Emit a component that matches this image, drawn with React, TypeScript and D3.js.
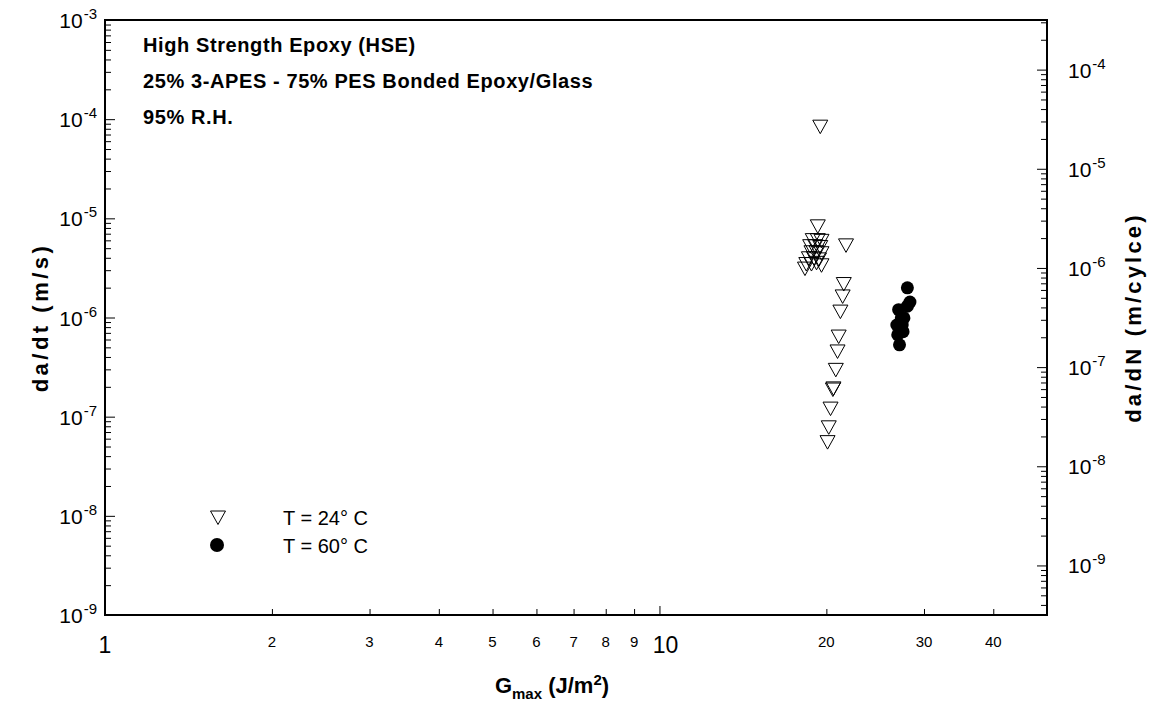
import React, { useEffect, useRef } from "react";
import * as d3 from "d3";

// T = 24 C, open triangles
const g24 = [19.5, 19.3, 18.9, 19.3, 19.6, 18.7, 19.1, 19.5, 18.8, 19.2, 19.6, 18.6, 19.0, 19.4, 18.4, 18.8, 19.2, 19.6, 18.3, 21.7, 21.5, 21.4, 21.2, 21.05, 20.95, 20.8, 20.6, 20.55, 20.35, 20.2, 20.1];
const r24 = [8.5e-5, 8.4e-6, 6.1e-6, 6.1e-6, 6.0e-6, 5.3e-6, 5.3e-6, 5.2e-6, 4.6e-6, 4.6e-6, 4.5e-6, 4.0e-6, 4.0e-6, 3.9e-6, 3.5e-6, 3.5e-6, 3.6e-6, 3.4e-6, 3.15e-6, 5.4e-6, 2.2e-6, 1.65e-6, 1.16e-6, 6.5e-7, 4.6e-7, 3.0e-7, 1.95e-7, 1.9e-7, 1.22e-7, 7.9e-8, 5.6e-8];

// T = 60 C, filled circles
const g60 = [28.0, 28.3, 27.0, 28.0, 27.3, 27.6, 26.8, 27.4, 26.9, 27.5, 27.1];
const r60 = [1.99e-6, 1.43e-6, 1.2e-6, 1.3e-6, 9.9e-7, 9.9e-7, 8.4e-7, 8.4e-7, 6.7e-7, 7.2e-7, 5.3e-7];

const xMajor = [1, 10];
const xMinor = [2, 3, 4, 5, 6, 7, 8, 9, 20, 30, 40];
const leftExp = [-3, -4, -5, -6, -7, -8, -9];
const rightExp = [-4, -5, -6, -7, -8, -9];
const titleLines = ["High Strength Epoxy (HSE)", "25% 3-APES - 75% PES Bonded Epoxy/Glass", "95% R.H."];
const legendLabels = ["T = 24\u00b0 C", "T = 60\u00b0 C"];
const cycleFactor = 3.16; // da/dN = da/dt / f

const W = 1153, H = 705;
const left = 105, right = 1047, top = 20, bottom = 615;
const font = "'Liberation Sans', Arial, Helvetica, sans-serif";

const x = d3.scaleLog().domain([1, 50]).range([left, right]);
const y = d3.scaleLog().domain([1e-9, 1e-3]).range([bottom, top]);
const y2 = d3.scaleLog().domain([1e-9 / cycleFactor, 1e-3 / cycleFactor]).range([bottom, top]);

// inverted open triangle marker
const tri = (cx: number, cy: number) =>
  `M${cx - 7.5},${cy - 6}L${cx + 7.5},${cy - 6}L${cx},${cy + 7.5}Z`;

const minorDecades = (lo: number, hi: number) => {
  const out: number[] = [];
  for (let e = lo; e < hi; e++) for (let k = 2; k <= 9; k++) out.push(k * Math.pow(10, e));
  return out;
};

const App = () => {
  const svgRef = useRef<SVGSVGElement>(null);

  useEffect(() => {
    const svg = d3.select(svgRef.current);

    const draw = (cls: string, axis: d3.Axis<any>, tx: number, ty: number) => {
      const g = svg.select<SVGGElement>(cls).attr("transform", `translate(${tx},${ty})`).call(axis);
      g.select(".domain").remove();
      g.selectAll("text").remove();
      g.selectAll("line").attr("stroke", "#000").attr("stroke-width", 1);
    };

    draw(".yl-major", d3.axisRight(y).tickValues(leftExp.map(e => Math.pow(10, e))).tickSize(10), left, 0);
    draw(".yl-minor", d3.axisRight(y).tickValues(minorDecades(-9, -3)).tickSize(6), left, 0);

    const y2Minor = minorDecades(-10, -3).filter(v => v >= 1e-9 / cycleFactor && v <= 1e-3 / cycleFactor);
    draw(".yr-major", d3.axisLeft(y2).tickValues(rightExp.map(e => Math.pow(10, e))).tickSize(10), right, 0);
    draw(".yr-minor", d3.axisLeft(y2).tickValues(y2Minor).tickSize(6), right, 0);

    draw(".x-major", d3.axisTop(x).tickValues(xMajor).tickSize(9), 0, bottom);
    draw(".x-minor", d3.axisTop(x).tickValues(xMinor).tickSize(6), 0, bottom);
  }, []);

  return (
    <svg ref={svgRef} width={W} height={H} viewBox={`0 0 ${W} ${H}`}
      style={{ position: "absolute", left: 0, top: 0, background: "#fff" }} fontFamily={font}>
      <rect x={0} y={0} width={W} height={H} fill="#fff" />
      <g className="yl-major" />
      <g className="yl-minor" />
      <g className="yr-major" />
      <g className="yr-minor" />
      <g className="x-major" />
      <g className="x-minor" />
      <rect x={left} y={top} width={right - left} height={bottom - top} fill="none" stroke="#000" strokeWidth={2} />

      {leftExp.map(e => (
        <text key={"l" + e} x={left - 8} y={y(Math.pow(10, e)) + 8} textAnchor="end" fontSize={21}>
          10<tspan dx={1} dy={-9} fontSize={15}>{e}</tspan>
        </text>
      ))}
      {rightExp.map(e => (
        <text key={"r" + e} x={right + 21} y={y2(Math.pow(10, e)) + 8} fontSize={21}>
          10<tspan dx={1} dy={-9} fontSize={15}>{e}</tspan>
        </text>
      ))}
      {xMajor.map(v => (
        <text key={"xm" + v} x={x(v) + (v === 10 ? 6 : 0)} y={653} textAnchor="middle" fontSize={23}>{v}</text>
      ))}
      {xMinor.map(v => (
        <text key={"xn" + v} x={x(v)} y={647} textAnchor="middle" fontSize={15}>{v}</text>
      ))}

      <text transform={`translate(48,${(top + bottom) / 2}) rotate(-90)`} textAnchor="middle" fontSize={22} fontWeight="bold" letterSpacing={3.5}>da/dt (m/s)</text>
      <text transform={`translate(1141,${(top + bottom) / 2}) rotate(-90)`} textAnchor="middle" fontSize={22} fontWeight="bold" letterSpacing={3.2}>da/dN (m/cylce)</text>
      <text x={552} y={693} textAnchor="middle" fontSize={22} fontWeight="bold">
        G<tspan dy={6} fontSize={15}>max</tspan><tspan dy={-6}> (J/m</tspan><tspan dy={-8} fontSize={15}>2</tspan><tspan dy={8}>)</tspan>
      </text>

      {titleLines.map((t, i) => (
        <text key={t} x={143} y={52 + i * 36} fontSize={20} fontWeight="bold" letterSpacing={0.6}>{t}</text>
      ))}

      <path d={tri(218, 517)} fill="none" stroke="#000" strokeWidth={1} />
      <circle cx={217} cy={545} r={7} fill="#000" />
      {legendLabels.map((t, i) => (
        <text key={t} x={283} y={525 + i * 28} fontSize={20}>{t}</text>
      ))}

      {g24.map((g, i) => (
        <path key={"t" + i} d={tri(x(g), y(r24[i]))} fill="none" stroke="#000" strokeWidth={1} />
      ))}
      {g60.map((g, i) => (
        <circle key={"c" + i} cx={x(g)} cy={y(r60[i])} r={6.5} fill="#000" />
      ))}
    </svg>
  );
};

export default App;
